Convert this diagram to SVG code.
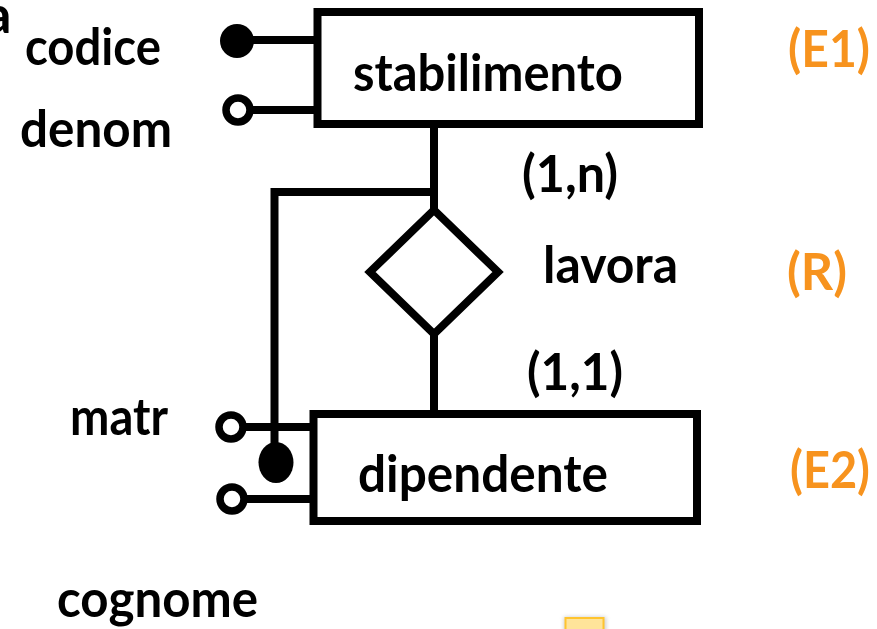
<svg xmlns="http://www.w3.org/2000/svg" width="877" height="629" viewBox="0 0 877 629">
  <style>
    .shape { fill: none; stroke: #000; stroke-width: 8; }
    .line { fill: none; stroke: #000; stroke-width: 8; }
    .key { fill: #000; stroke: none; }
    .opt { fill: #fff; stroke: #000; stroke-width: 7.5; }
    text { font-family: "Lato", "Open Sans", "Liberation Sans", sans-serif; font-weight: 700; font-size: 52px; fill: #000; }
    .tag { fill: #F7931E; }
  </style>
  <defs>
    <filter id="soft" x="-30%" y="-30%" width="160%" height="160%">
      <feGaussianBlur stdDeviation="2"/>
    </filter>
  </defs>
  <rect width="877" height="629" fill="#fff"/>

  <!-- stray letter at the top-left edge -->
  <text x="-15" y="33" font-size="64">a</text>

  <g id="connectors">
    <!-- stabilimento - lavora - dipendente -->
    <line class="line" x1="434" y1="124" x2="434" y2="212"/>
    <line class="line" x1="434" y1="332" x2="434" y2="414"/>
    <!-- external identifier of dipendente through lavora -->
    <path class="line" d="M434,192 H274.5 V446"/>
    <!-- attribute stems -->
    <line class="line" x1="250" y1="40" x2="317" y2="40"/>
    <line class="line" x1="245" y1="110" x2="317" y2="110"/>
    <line class="line" x1="243" y1="427" x2="313" y2="427"/>
    <line class="line" x1="245" y1="499" x2="313" y2="499"/>
  </g>

  <g id="stabilimento">
    <rect class="shape" x="317.5" y="12" width="381.5" height="112"/>
    <text x="353" y="91" textLength="270" lengthAdjust="spacingAndGlyphs">stabilimento</text>
  </g>

  <g id="lavora">
    <polygon class="shape" points="434,210 498,272 434,334 370,272"/>
    <text x="543" y="283" textLength="135" lengthAdjust="spacingAndGlyphs">lavora</text>
  </g>

  <g id="dipendente">
    <rect class="shape" x="313.5" y="414" width="383.5" height="107"/>
    <text x="358" y="492" textLength="250" lengthAdjust="spacingAndGlyphs">dipendente</text>
    <!-- identifier marker -->
    <ellipse class="key" cx="276" cy="462.5" rx="17.5" ry="20.5"/>
  </g>

  <g id="card-stabilimento">
    <text x="522" y="192" textLength="96" lengthAdjust="spacingAndGlyphs">(1,n)</text>
  </g>
  <g id="card-dipendente">
    <text x="527" y="390" textLength="96" lengthAdjust="spacingAndGlyphs">(1,1)</text>
  </g>

  <g id="attr-codice">
    <circle class="key" cx="237" cy="41" r="17"/>
    <text x="25" y="65" textLength="136" lengthAdjust="spacingAndGlyphs">codice</text>
  </g>
  <g id="attr-denom">
    <circle class="opt" cx="238" cy="110" r="12"/>
    <text x="20" y="147" textLength="152" lengthAdjust="spacingAndGlyphs">denom</text>
  </g>
  <g id="attr-matr">
    <circle class="opt" cx="231" cy="427" r="12"/>
    <text x="70" y="435" textLength="98" lengthAdjust="spacingAndGlyphs">matr</text>
  </g>
  <g id="attr-cognome">
    <circle class="opt" cx="232" cy="499" r="12"/>
    <text x="57" y="617" textLength="201" lengthAdjust="spacingAndGlyphs">cognome</text>
  </g>

  <g id="labels">
    <text class="tag" x="788" y="67" textLength="82" lengthAdjust="spacingAndGlyphs">(E1)</text>
    <text class="tag" x="787" y="290" textLength="60" lengthAdjust="spacingAndGlyphs">(R)</text>
    <text class="tag" x="790" y="488" textLength="80" lengthAdjust="spacingAndGlyphs">(E2)</text>
  </g>

  <!-- small note shape at the bottom edge -->
  <g id="note">
    <rect x="564" y="617" width="42" height="20" fill="#999" opacity="0.5" filter="url(#soft)"/>
    <rect x="565.5" y="618" width="38" height="16" fill="#FFE49A" stroke="#FFC42E" stroke-width="2"/>
  </g>
</svg>
